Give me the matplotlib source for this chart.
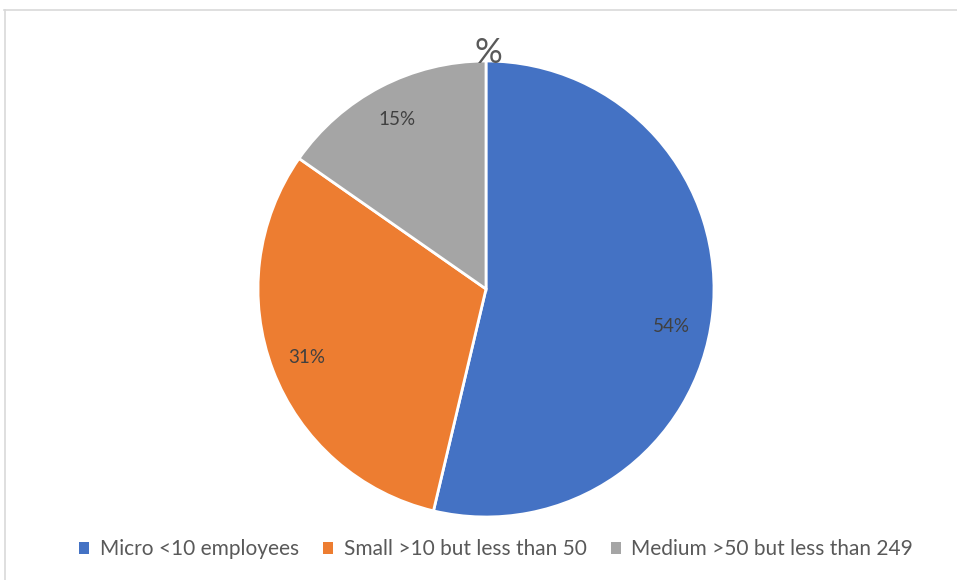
import matplotlib.pyplot as plt
from matplotlib.lines import Line2D
from matplotlib.patches import Patch

labels = ["Micro <10 employees", "Small >10 but less than 50", "Medium >50 but less than 249"]
shares = [53.7, 31.0, 15.3]
colors = ["#4472C4", "#ED7D31", "#A5A5A5"]

plt.rcParams['font.family'] = ['Lato', 'DejaVu Sans']

W, H = 957, 580
fig = plt.figure(figsize=(W / 100, H / 100), dpi=100)

# frame lines (top and left only, as in the reference)
fig.add_artist(Line2D([4 / W, 1], [1 - 9.5 / H, 1 - 9.5 / H], color="#d9d9d9", lw=1.2))
fig.add_artist(Line2D([4.5 / W, 4.5 / W], [0, 1 - 9.5 / H], color="#d9d9d9", lw=1.2))

cx, cy, r = 486, 289, 228
ax = fig.add_axes([(cx - r) / W, (H - cy - r) / H, 2 * r / W, 2 * r / H])
wedges, texts, autotexts = ax.pie(
    shares, colors=colors, startangle=90, counterclock=False,
    autopct='%.0f%%', pctdistance=0.84,
    wedgeprops=dict(edgecolor="white", linewidth=2),
    textprops=dict(color="#404040", fontsize=13.5))
# excel puts the big slice's label a little below its mid angle
autotexts[0].set_position((0.815, -0.165))
ax.set_xlim(-1, 1)
ax.set_ylim(-1, 1)
ax.set_aspect('auto')
ax.axis('off')

fig.text(488 / W, 1 - 53 / H, "%", ha="center", va="center", fontsize=25, color="#595959")

handles = [Patch(facecolor=c, edgecolor="none") for c in colors]
fig.legend(handles, labels, loc="center", bbox_to_anchor=(496 / W, 1 - 549 / H),
           ncol=3, frameon=False, fontsize=15, labelcolor="#595959",
           handlelength=0.5, handleheight=0.5, handletextpad=0.5, columnspacing=1.15)

fig.savefig("out.png", dpi=100)
